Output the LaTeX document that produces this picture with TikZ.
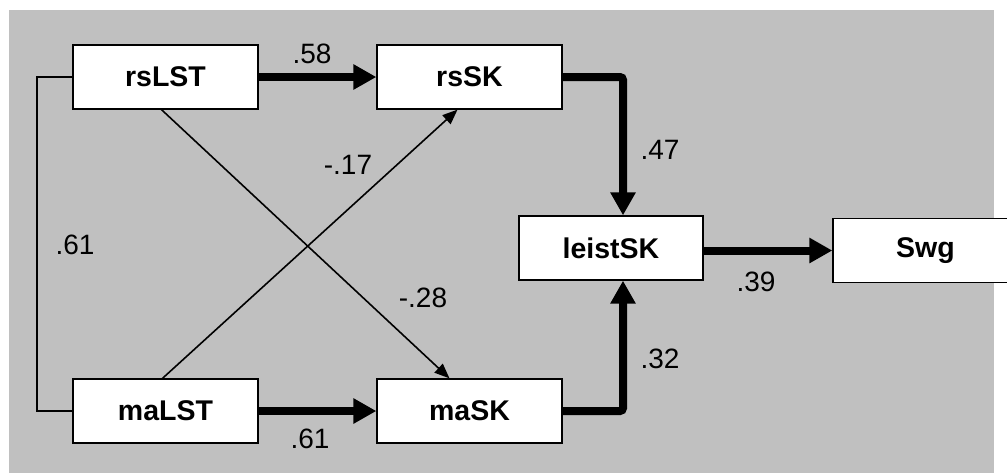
\documentclass[tikz,border=0pt]{standalone}
\usepackage{fontspec}
\setmainfont{Liberation Sans}
\usetikzlibrary{arrows.meta}
\definecolor{bggray}{HTML}{C0C0C0}
\tikzset{
  box/.style={draw=black, fill=white, line width=1.3pt, minimum width=185pt, minimum height=64pt, inner sep=0pt, font=\fontsize{28.5}{34}\selectfont\bfseries},
  thickarr/.style={line width=8pt, -{Triangle[length=23pt,width=24pt]}},
  thickline/.style={line width=8pt},
  thinarr/.style={line width=1.6pt, -{Triangle[length=15pt,width=12pt]}},
  thinline/.style={line width=1.6pt},
  coef/.style={font=\fontsize{28}{32}\selectfont, inner sep=0pt}
}
\begin{document}
\begin{tikzpicture}[x=1pt,y=-1pt]
\useasboundingbox (0,0) rectangle (1007,475);
\fill[bggray] (9,10) rectangle (994,473);
\node[box] (rsLST) at (165.5,77) {rsLST};
\node[box] (rsSK) at (469.5,77) {rsSK};
\node[box] (maLST) at (165.5,411) {maLST};
\node[box] (maSK) at (469.5,411) {maSK};
\node[box, minimum width=184pt] (leistSK) at (611,248) {leistSK};
\node[box, minimum width=185pt] (Swg) at (925.5,250.5) {Swg};
\coordinate (corrL) at (37,0);
% structural paths
\draw[thickarr] (rsLST.east) -- (rsSK.west);
\draw[thickarr] (maLST.east) -- (maSK.west);
\draw[thickarr, rounded corners=3pt] (rsSK.east) -| ([xshift=12pt]leistSK.north);
\draw[thickarr, rounded corners=3pt] (maSK.east) -| ([xshift=12pt]leistSK.south);
\draw[thickarr] (leistSK.east |- Swg.west) -- (Swg.west);
\draw[thinarr] ([xshift=-4pt]rsLST.south) -- ([xshift=-20pt]maSK.north);
\draw[thinarr] ([xshift=-3pt]maLST.north) -- ([xshift=-12pt]rsSK.south);
\draw[thinline] (rsLST.west) -- (corrL |- rsLST.west) -- (corrL |- maLST.west) -- (maLST.west);
% coefficients
\node[coef] (c58) at (312,54) {.58};
\node[coef] (c17) at (348,165) {-.17};
\node[coef] (c61a) at (75,245) {.61};
\node[coef] (c28) at (423,298) {-.28};
\node[coef] (c47) at (660,150) {.47};
\node[coef] (c32) at (660,359) {.32};
\node[coef] (c39) at (756,282) {.39};
\node[coef] (c61b) at (310,439) {.61};
\end{tikzpicture}
\end{document}
